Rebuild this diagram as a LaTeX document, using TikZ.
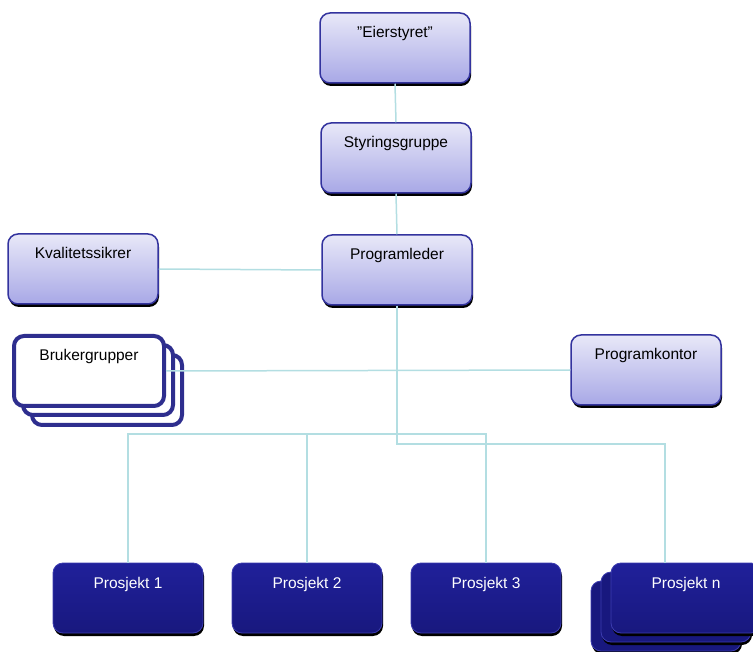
\documentclass[tikz,border=0pt]{standalone}
\usepackage{fontspec}
\setmainfont{Liberation Sans}
\usetikzlibrary{shadows}

\definecolor{boxtop}{HTML}{E8E8F8}
\definecolor{boxbot}{HTML}{A8A8E6}
\definecolor{boxline}{HTML}{33339E}
\definecolor{grpline}{HTML}{2E2E8E}
\definecolor{projtop}{HTML}{20209A}
\definecolor{projbot}{HTML}{18187E}
\definecolor{projline}{HTML}{3C3CB0}
\definecolor{linkcol}{HTML}{B3DEE2}

\tikzset{
	orgbox/.style={rectangle, rounded corners=10pt, minimum width=150pt, inner xsep=0pt, inner ysep=0pt,
		text height=25pt, text depth=45pt, font=\fontsize{15.5}{18}\selectfont},
	blackshadow/.style={drop shadow={shadow xshift=1pt, shadow yshift=-3pt, opacity=1, fill=black}},
	lightbox/.style={orgbox, draw=boxline, line width=1.5pt, top color=boxtop, bottom color=boxbot, blackshadow},
	projbase/.style={orgbox, draw=projline, line width=0.8pt, top color=projtop, bottom color=projbot, text=white},
	projbox/.style={projbase, blackshadow},
	groupbox/.style={orgbox, draw=grpline, line width=4pt, fill=white},
	link/.style={draw=linkcol, line width=1.5pt}
}

\begin{document}
\begin{tikzpicture}[x=1pt, y=-1pt]
		%%%%% START %%%%%
		\useasboundingbox (0, 0) rectangle (753, 652);
		
		\node[lightbox] (eier) at (395, 48) {"Eierstyret"};
		\node[lightbox] (styr) at (396, 158) {Styringsgruppe};
		\node[lightbox] (prog) at (397, 270) {Programleder};
		\node[lightbox] (kval) at (83, 269) {Kvalitetssikrer};
		\node[lightbox] (kontor) at (646, 370) {Programkontor};
		
		% brukergrupper, three sheets
		\node[groupbox,
			general shadow={shadow xshift=18pt, shadow yshift=-19pt, fill=white, draw=grpline, line width=4pt},
			general shadow={shadow xshift=9pt, shadow yshift=-9pt, fill=white, draw=grpline, line width=4pt}]
			(brk) at (89, 371) {Brukergrupper};
		
		\node[projbox] (p1) at (128, 598) {Prosjekt 1};
		\node[projbox] (p2) at (307, 598) {Prosjekt 2};
		\node[projbox] (p3) at (486, 598) {Prosjekt 3};
		
		% prosjekt n, three sheets
		\node[projbase,
			general shadow={shadow xshift=-19pt, shadow yshift=-21pt, opacity=1, fill=black},
			general shadow={shadow xshift=-20pt, shadow yshift=-18pt, fill=projbot, draw=projline, line width=0.8pt},
			general shadow={shadow xshift=-9pt, shadow yshift=-12pt, opacity=1, fill=black},
			general shadow={shadow xshift=-10pt, shadow yshift=-9pt, fill=projbot, draw=projline, line width=0.8pt},
			blackshadow]
			(pn) at (686, 598) {Prosjekt n};
		
		\coordinate (busA) at (0, 434);
		\coordinate (busB) at (0, 444);
		\coordinate (pntop) at ([xshift=-21pt]pn.north);
		
		\draw[link] (eier.south) -- (styr.north);
		\draw[link] (styr.south) -- (prog.north);
		\draw[link] (kval.east) -- (prog.west);
		\draw[link] (brk.east) -- (kontor.west);
		
		\draw[link] (prog.south) -- (prog.south |- busB) -| (pntop);
		\draw[link] (p1.north) |- (p3.north |- busA) -- (p3.north);
		\draw[link] (p2.north) -- (p2.north |- busA);
		
		%%%%% END %%%%%
	\end{tikzpicture}
\end{document}
